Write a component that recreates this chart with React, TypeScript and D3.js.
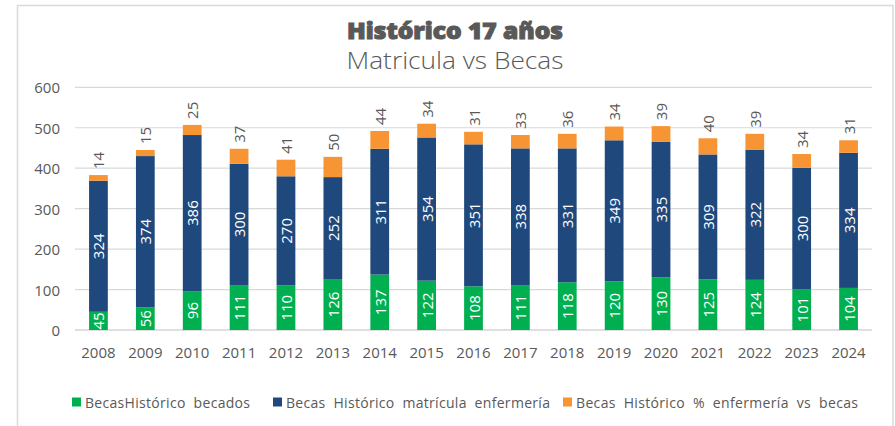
import React from "react";
import * as d3 from "d3";

const years = ["2008","2009","2010","2011","2012","2013","2014","2015","2016","2017","2018","2019","2020","2021","2022","2023","2024"];
const becados = [45,56,96,111,110,126,137,122,108,111,118,120,130,125,124,101,104];
const matricula = [324,374,386,300,270,252,311,354,351,338,331,349,335,309,322,300,334];
const pct = [14,15,25,37,41,50,44,34,31,33,36,34,39,40,39,34,31];
const yTicks = [0,100,200,300,400,500,600];
const seriesNames = ["BecasHistórico  becados","Becas  Histórico  matrícula  enfermería","Becas  Histórico  %  enfermería  vs  becas"];
const colors = ["#00B050","#1F497D","#F79433"];

const W = 895, H = 426;
const FONT = "'Open Sans', 'Noto Sans', sans-serif";
const GRAY = "#595959";

export default function App() {
  const x = d3.scaleBand<string>().domain(years).range([75, 872]).paddingInner(0.6).paddingOuter(0.3);
  const y = d3.scaleLinear().domain([0, 600]).range([330, 87.3]);

  const rows = years.map((yr, i) => ({ yr, b: becados[i], m: matricula[i], p: pct[i] }));
  const stack = d3.stack<any>().keys(["b", "m", "p"])(rows);

  const legendPos = [
    { sx: 72, tx: 85, tl: 165 },
    { sx: 273, tx: 286, tl: 264 },
    { sx: 563, tx: 576, tl: 282 },
  ];

  return (
    <svg width={W} height={H} style={{ position: "absolute", left: 0, top: 0, fontFamily: FONT }}>
      <rect x={0} y={0} width={W} height={H} fill="#fff" />
      <rect x={17.5} y={5.5} width={875.5} height={440} fill="#fff" stroke="#D9D9D9" strokeWidth={1.5} />
      <text x={455} y={39} textAnchor="middle" fontSize={23} fontWeight={900} fill={GRAY} stroke={GRAY} strokeWidth={1.1} textLength={216} lengthAdjust="spacingAndGlyphs">Histórico 17 años</text>
      <text x={455} y={69} textAnchor="middle" fontSize={24} fontWeight={300} fill={GRAY} textLength={217} lengthAdjust="spacingAndGlyphs">Matricula vs Becas</text>

      {yTicks.map((t) => (
        <g key={t}>
          <line x1={75} x2={872} y1={y(t)} y2={y(t)} stroke={t === 0 ? "#BFBFBF" : "#D9D9D9"} strokeWidth={1.2} />
          <text x={60} y={y(t)} textAnchor="end" dominantBaseline="central" fontSize={15} fill={GRAY}>{t}</text>
        </g>
      ))}

      {stack.map((s, si) => (
        <g key={si}>
          {s.map((d, i) => {
            const bx = x(years[i])!;
            const bw = x.bandwidth();
            const y0 = y(d[0]), y1 = y(d[1]);
            const cx = bx + bw / 2;
            const val = (rows[i] as any)[["b", "m", "p"][si]];
            return (
              <g key={i}>
                <rect x={bx} y={y1} width={bw} height={y0 - y1} fill={colors[si]} />
                {si < 2 ? (
                  <text transform={`translate(${cx},${(y0 + y1) / 2}) rotate(-90)`} textAnchor="middle" dominantBaseline="central" fontSize={15} fill="#fff">{val}</text>
                ) : (
                  <text transform={`translate(${cx},${y1 - 6}) rotate(-90)`} textAnchor="start" dominantBaseline="central" fontSize={15} fill={GRAY}>{val}</text>
                )}
              </g>
            );
          })}
        </g>
      ))}

      {years.map((yr) => (
        <text key={yr} x={x(yr)! + x.bandwidth() / 2} y={358} textAnchor="middle" fontSize={15} fill={GRAY}>{yr}</text>
      ))}

      {seriesNames.map((n, i) => (
        <g key={n}>
          <rect x={legendPos[i].sx} y={397.5} width={9} height={9} fill={colors[i]} />
          <text x={legendPos[i].tx} y={407.5} fontSize={14} fill={GRAY} textLength={legendPos[i].tl} lengthAdjust="spacing" style={{ whiteSpace: "pre" }}>{n}</text>
        </g>
      ))}
    </svg>
  );
}
